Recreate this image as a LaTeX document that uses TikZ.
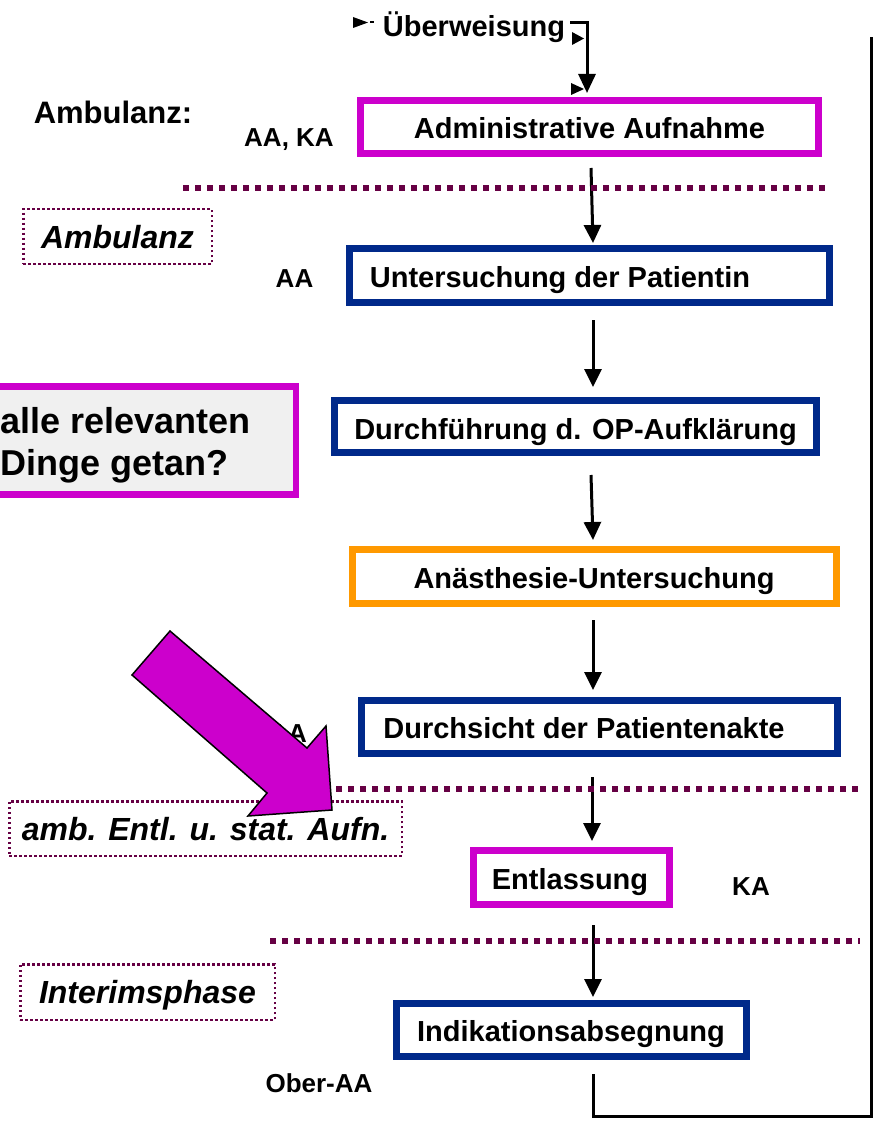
\documentclass[tikz,border=0pt]{standalone}
\usepackage{fontspec}
\setmainfont{Liberation Sans}
\usetikzlibrary{arrows.meta}
\definecolor{mag}{RGB}{204,0,204}
\definecolor{navy}{RGB}{0,41,138}
\definecolor{orng}{RGB}{255,153,0}
\definecolor{maroon}{RGB}{102,0,68}
\definecolor{lgray}{RGB}{240,240,240}
\begin{document}
\begin{tikzpicture}[x=1pt,y=-1pt,
  box/.style={draw=#1, line width=7pt, fill=white, inner sep=0pt},
  lbl/.style={font=\fontsize{29}{33}\selectfont\bfseries, inner sep=0pt, text height=21pt, text depth=0pt},
  side/.style={font=\fontsize{26}{30}\selectfont\bfseries, inner sep=0pt, text height=19pt, text depth=0pt},
  phase/.style={draw=maroon, line width=2.5pt, dash pattern=on 2.5pt off 2.5pt, inner sep=0pt,
    font=\fontsize{32}{36}\selectfont\bfseries\itshape, text height=23pt, text depth=0pt},
  sepline/.style={draw=maroon, line width=6pt, dash pattern=on 6pt off 6pt},
  flow/.style={line width=3pt, -{Triangle[width=17pt,length=18pt]}},
  smalltip/.style={fill=black},
]
\useasboundingbox (0,0) rectangle (875,1123);

% process boxes
\node[box=mag,  minimum width=458pt, minimum height=53pt] (adm) at (589.5,127) {};
\node[box=navy, minimum width=480pt, minimum height=54pt] (unt) at (589.5,275.5) {};
\node[box=navy, minimum width=482pt, minimum height=52pt] (dur) at (575.5,426.5) {};
\node[box=orng, minimum width=484pt, minimum height=54pt] (ana) at (594.5,576.5) {};
\node[box=navy, minimum width=476pt, minimum height=53pt] (dsi) at (599.5,727) {};
\node[box=mag,  minimum width=196pt, minimum height=54pt] (ent) at (571.5,877.5) {};
\node[box=navy, minimum width=350pt, minimum height=53pt] (ind) at (571.5,1030) {};

\node[lbl] (admt) at (589.5,128) {Administrative Aufnahme};
\node[lbl] (untt) at (560,277) {Untersuchung der Patientin};
\node[lbl] (durt) at (575.5,429) {Durchführung d. OP-Aufklärung};
\node[lbl] (anat) at (594,578) {Anästhesie-Untersuchung};
\node[lbl] (dsit) at (584,728) {Durchsicht der Patientenakte};
\node[lbl] (entt) at (570,879) {Entlassung};
\node[lbl] (indt) at (571,1031) {Indikationsabsegnung};

% top referral
\node[lbl] (ueb) at (474,26) {Überweisung};
\fill[smalltip] (353,17) -- (368,22.5) -- (353,28) -- cycle;
\fill (370,21.5) rectangle (374,23.5);
\coordinate (t0) at (570,23);
\coordinate (t1) at (587,23);
\coordinate (t2) at (587,93);
\draw[line width=3pt, -{Triangle[width=17pt,length=19pt]}] (t0) -- (t1) -- (t2);
\fill[smalltip] (572,32) -- (584,38.5) -- (572,45) -- cycle;
\fill[smalltip] (571,83) -- (584,89) -- (571,95) -- cycle;

% flow arrows
\coordinate (a1s) at (591,168); \coordinate (a1e) at (593,243);
\coordinate (a2s) at (593,320); \coordinate (a2e) at (593,387);
\coordinate (a3s) at (591,475); \coordinate (a3e) at (593,540);
\coordinate (a4s) at (593,620); \coordinate (a4e) at (593,690);
\coordinate (a5s) at (592,777); \coordinate (a5e) at (592,841);
\coordinate (a6s) at (593,925); \coordinate (a6e) at (593,997);
\draw[flow] (a1s) -- (a1e);
\draw[flow] (a2s) -- (a2e);
\draw[flow] (a3s) -- (a3e);
\draw[flow] (a4s) -- (a4e);
\draw[flow] (a5s) -- (a5e);
\draw[flow] (a6s) -- (a6e);

% return line
\coordinate (r0) at (593,1074);
\coordinate (r1) at (593,1116);
\coordinate (r2) at (871,1116);
\coordinate (r3) at (871,37);
\draw[line width=3pt] (r0) -- (r1) -- (r2) -- (r3);

% separators
\draw[sepline] (183,188) -- (830,188);
\draw[sepline] (300,789) -- (862,789);
\draw[sepline] (270,941) -- (860,941);

% phase boxes
\node[phase, minimum width=188.5pt, minimum height=54.5pt] (ph1) at (117.5,236.5) {Ambulanz};
\node[phase, minimum width=392.5pt, minimum height=54.5pt] (ph2) at (205.5,828.5) {amb. Entl. u. stat. Aufn.};
\node[phase, minimum width=254.5pt, minimum height=55.5pt] (ph3) at (147.5,992) {Interimsphase};

% side labels
\node[font=\fontsize{31}{35}\selectfont\bfseries, inner sep=0pt, text height=22pt, text depth=0pt] (amb) at (113,113) {Ambulanz:};
\node[side] (r1l) at (289,137) {AA, KA};
\node[side] (r2l) at (294.5,278) {AA};
\node[side, anchor=east] (r3l) at (307,733) {AA};
\node[side] (r4l) at (751,886) {KA};
\node[side] (r5l) at (319,1083) {Ober-AA};

% question box
\node[draw=mag, line width=6.5pt, fill=lgray, minimum width=316pt, minimum height=108pt, inner sep=0pt] (qbox) at (138,440.5) {};
\node[font=\fontsize{36}{42}\selectfont\bfseries, inner sep=0pt, anchor=base west] (q1) at (0.5,433) {alle relevanten};
\node[font=\fontsize{36}{42}\selectfont\bfseries, inner sep=0pt, anchor=base west] (q2) at (0.5,475) {Dinge getan?};

% big arrow
\draw[fill=mag, line width=1.5pt, line join=miter] (170,631) -- (132,675) -- (267,793) -- (248,816) -- (332,810) -- (326,726) -- (307,748) -- cycle;
\end{tikzpicture}
\end{document}
